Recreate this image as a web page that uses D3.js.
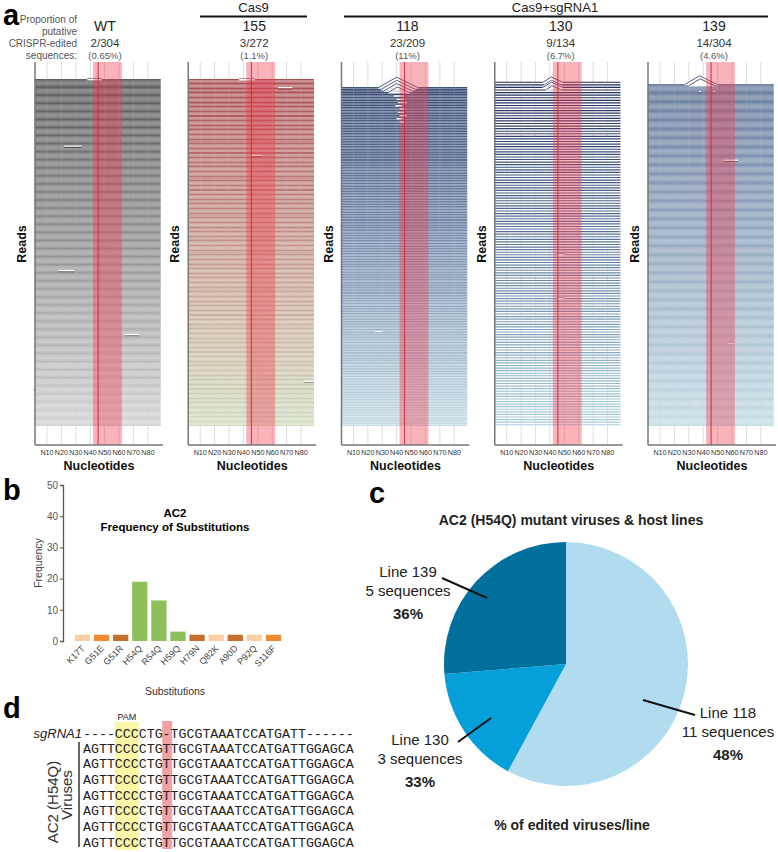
<!DOCTYPE html>
<html><head><meta charset="utf-8">
<script src="https://cdn.jsdelivr.net/npm/d3@7"></script>
<style>
body{margin:0;background:#fff;}
svg{display:block;font-family:"Liberation Sans",Arial,Helvetica,sans-serif;}
</style></head><body>
<svg id="c" width="778" height="852"></svg>
<script>
// ================= DATA =================
// Panel a
const samples = ["WT","155","118","130","139"];
const editedReads = [2,3,23,9,14];
const totalReads = [304,272,209,134,304];
const editedPercent = ["0.65%","1.1%","11%","6.7%","4.6%"];
const groups = [{label:"Cas9", first:1, last:1},{label:"Cas9+sgRNA1", first:2, last:4}];
const nucleotideTicks = [10,20,30,40,50,60,70,80];
const targetWindow = [42,62];
const cutSite = 45.5;
const readSpan = [1.5, 89];
// [sample, read row, from nt, to nt, kind]
const readEdits = [
  [0,0,38,48,"gap"],[0,59,22,34,"mark"],[0,168,18,29,"mark"],[0,224,64,74,"mark"],[0,271,0.5,2,"mark"],
  [1,0,37,48,"gap"],[1,7,64,74,"mark"],[1,60,45,53,"mark"],[1,237,82,89,"mark"],
  [2,0,27,55,"del"],[2,1,29,53,"del"],[2,2,31,51,"del"],[2,3,34,49,"del"],
  [2,5,38,45,"gap"],[2,7,40,46,"gap"],[2,9,41,47,"gap"],[2,11,39,44,"gap"],[2,13,42,46,"gap"],
  [2,15,41,45,"gap"],[2,17,42,47,"gap"],[2,19,40,44,"gap"],[2,21,42,45,"gap"],
  [2,150,25,30,"gap"],
  [3,0,35,49,"del"],[3,1,36,48,"del"],[3,2,35,49,"del"],[3,3,37,48,"del"],[3,67,45,50,"gap"],[3,84,45,50,"gap"],
  [4,0,27,50,"del"],[4,1,30,48,"del"],[4,7,37,38.5,"mark"],[4,7,47,48.5,"mark"],[4,68,54,64,"mark"],[4,230,57,62,"gap"]
];
// Panel b
const substitutions = ["K17T","G51E","G51R","H54Q","R54Q","H59Q","H79N","Q82K","A90D","P92Q","S116F"];
const substitutionFrequency = [2,2,2,19,13,3,2,2,2,2,2];
const substitutionClass = ["light","orange","brown","green","green","green","brown","light","brown","light","orange"];
const frequencyTicks = [0,10,20,30,40,50];
// Panel c
const hostLines = ["Line 118","Line 130","Line 139"];
const sequencesPerLine = [11,3,5];
const percentEdited = ["48%","33%","36%"];
// Panel d
const sgRNA = "----CCCCTG-TGCGTAAATCCATGATT------";
const viruses = [
  "AGTTCCCCTGTTGCGTAAATCCATGATTGGAGCA",
  "AGTTCCCCTGTTGCGTAAATCCATGATTGGAGCA",
  "AGTTCCCCTGTTGCGTAAATCCATGATTGGAGCA",
  "AGTTCCCCTGTTGCGTAAATCCATGATTGGAGCA",
  "AGTTCCCCTGTTGCGTAAATCCATGATTGGAGCA",
  "AGTTCCCCTGTTGCGTAAATCCATGATTGGAGCA",
  "AGTTCCCCTGTTGCGTAAATCCATGATTGGAGCA"
];
const pamPositions = [4,6];     // 0-based char index range
const insertPosition = 10;

// ================= STYLE =================
const readPalettes = [
  ["#4b4b4b","#8c8c8c","#cfcfcf"],
  ["#aa4d52","#c8988a","#cfdcbf"],
  ["#3e5179","#7f96b5","#c6dde5"],
  ["#1d2b5a","#5f7ca3","#a8cfdc"],
  ["#5a6f94","#8ea4bf","#bfdbe2"]
];
const readWidths = [0.95,1.05,1.4,1.15,0.95];
const readTops = [79,79,87,81,84];
const barColors = {light:"#fbcfa6", orange:"#ee8a30", brown:"#c46f2c", green:"#8dc05a"};
const pieColors = ["#b1dcf0","#05a0da","#02709c"];

const svg = d3.select("#c");
const FONT = '"Liberation Sans",Arial,Helvetica,sans-serif';

// ================= PANEL A =================
svg.append("text").attr("x",3).attr("y",25).attr("font-size",29).attr("font-weight","bold").text("a");
["Proportion of","putative","CRISPR-edited","sequences:"].forEach((t,i)=>{
  svg.append("text").attr("x",77).attr("y",22.5+i*12).attr("text-anchor","end")
    .attr("font-size",10).attr("fill","#555").text(t);
});
const plotW = 153.25, axTop = 62, axBottom = 445, readsBottom = 426;
samples.forEach((s,i)=>{
  const x0 = 35 + plotW*i;
  const g = svg.append("g");
  const x = d3.scaleLinear().domain([0,90]).range([x0-2.4, x0-2.4+129.6]);
  const y = d3.scaleBand().domain(d3.range(totalReads[i])).range([readTops[i], readsBottom]);
  const col = d3.interpolateRgbBasis(readPalettes[i]);
  // header
  const cx = x0 + (i===0?70:66);
  g.append("text").attr("x",cx).attr("y",31).attr("text-anchor","middle").attr("font-size",14).attr("fill","#222").text(s);
  g.append("text").attr("x",cx).attr("y",47).attr("text-anchor","middle").attr("font-size",11.5).attr("fill","#333")
    .text(editedReads[i]+"/"+totalReads[i]);
  g.append("text").attr("x",cx).attr("y",58.5).attr("text-anchor","middle").attr("font-size",9.5).attr("fill","#555")
    .text("("+editedPercent[i]+")");
  // gridlines
  g.selectAll(".grid").data(nucleotideTicks).join("line")
    .attr("x1",d=>x(d)).attr("x2",d=>x(d)).attr("y1",axTop).attr("y2",axBottom)
    .attr("stroke","#d4d4d4").attr("stroke-width",0.8);
  // reads
  const rows = d3.range(totalReads[i]);
  g.selectAll(".read").data(rows).join("line")
    .attr("x1",x(readSpan[0])).attr("x2",x(readSpan[1]))
    .attr("y1",d=>y(d)+y.bandwidth()/2).attr("y2",d=>y(d)+y.bandwidth()/2)
    .attr("stroke",d=>col(d/(totalReads[i]-1))).attr("stroke-width",readWidths[i]);
  // grid visible through reads
  g.selectAll(".grid2").data(nucleotideTicks).join("line")
    .attr("x1",d=>x(d)).attr("x2",d=>x(d)).attr("y1",readTops[i]).attr("y2",readsBottom)
    .attr("stroke","#ffffff").attr("stroke-opacity",0.18).attr("stroke-width",0.8);
  // edits
  readEdits.filter(e=>e[0]===i).forEach(e=>{
    const ry = y(e[1]) + y.bandwidth()/2;
    const c = d3.color(col(e[1]/(totalReads[i]-1))).darker(0.8);
    if(e[4]==="gap"){
      g.append("line").attr("x1",x(e[2])).attr("x2",x(e[3])).attr("y1",ry).attr("y2",ry)
        .attr("stroke","#fff").attr("stroke-width",1.6);
      g.append("line").attr("x1",x(e[2])).attr("x2",x(e[3])).attr("y1",ry-1.2).attr("y2",ry-1.2)
        .attr("stroke",c).attr("stroke-width",0.6);
    } else if(e[4]==="mark"){
      g.append("line").attr("x1",x(e[2])).attr("x2",x(e[3])).attr("y1",ry-0.8).attr("y2",ry-0.8)
        .attr("stroke","#fff").attr("stroke-width",1.2);
      g.append("line").attr("x1",x(e[2])).attr("x2",x(e[3])).attr("y1",ry+0.5).attr("y2",ry+0.5)
        .attr("stroke",c).attr("stroke-width",1);
    } else {
      const mid = (e[2]+e[3])/2 - 1;
      const h = (e[3]-e[2])*0.38;
      g.append("line").attr("x1",x(e[2])).attr("x2",x(e[3])).attr("y1",ry).attr("y2",ry)
        .attr("stroke","#fff").attr("stroke-width",1.4);
      g.append("path").attr("d",`M${x(e[2])},${ry}L${x(mid)},${ry-h}L${x(e[3])},${ry}`)
        .attr("fill","none").attr("stroke","#fff").attr("stroke-width",2.2);
      g.append("path").attr("d",`M${x(e[2])},${ry}L${x(mid)},${ry-h}L${x(e[3])},${ry}`)
        .attr("fill","none").attr("stroke","#22325a").attr("stroke-width",0.8);
    }
  });
  // target window
  g.append("rect").attr("x",x(targetWindow[0])).attr("y",axTop)
    .attr("width",x(targetWindow[1])-x(targetWindow[0])).attr("height",axBottom-axTop)
    .attr("fill","rgb(243,55,75)").attr("fill-opacity",0.38);
  g.append("line").attr("x1",x(cutSite)).attr("x2",x(cutSite)).attr("y1",axTop).attr("y2",axBottom)
    .attr("stroke","#c8303c").attr("stroke-width",1);
  // axes
  g.append("line").attr("x1",x0).attr("x2",x0).attr("y1",axTop).attr("y2",axBottom).attr("stroke","#777").attr("stroke-width",1.5);
  g.append("line").attr("x1",x0).attr("x2",x0+128).attr("y1",axBottom).attr("y2",axBottom).attr("stroke","#777").attr("stroke-width",1.5);
  g.selectAll(".tl").data(nucleotideTicks).join("text")
    .attr("x",d=>x(d)).attr("y",455).attr("text-anchor","middle").attr("font-size",7.2).attr("fill","#333")
    .text(d=>"N"+d);
  g.append("text").attr("x",x0+64).attr("y",470).attr("text-anchor","middle").attr("font-size",12.5)
    .attr("font-weight","bold").attr("fill","#111").text("Nucleotides");
  g.append("text").attr("transform",`translate(${x0-9},244) rotate(-90)`).attr("text-anchor","middle")
    .attr("font-size",12.5).attr("font-weight","bold").attr("fill","#111").text("Reads");
});
groups.forEach(gr=>{
  const lx1 = gr.first===1 ? 200 : 344, lx2 = gr.first===1 ? 307 : 768;
  svg.append("line").attr("x1",lx1).attr("x2",lx2).attr("y1",16.5).attr("y2",16.5).attr("stroke","#111").attr("stroke-width",2);
  svg.append("text").attr("x",(lx1+lx2)/2 - (gr.first===1?0:1)).attr("y",11.5).attr("text-anchor","middle")
    .attr("font-size",13).attr("fill","#222").text(gr.label);
});

// ================= PANEL B =================
svg.append("text").attr("x",3).attr("y",500).attr("font-size",29).attr("font-weight","bold").text("b");
const yb = d3.scaleLinear().domain([0,50]).range([641,485]);
const xb = d3.scaleBand().domain(substitutions).range([72,284]).paddingInner(0.2).paddingOuter(0.15);
const gb = svg.append("g");
gb.append("g").attr("transform","translate(63,0)")
  .call(d3.axisLeft(yb).tickValues(frequencyTicks).tickSize(3).tickPadding(2))
  .call(a=>{a.select(".domain").attr("stroke","#555").attr("stroke-width",1.3);
            a.selectAll(".tick line").attr("stroke","#555");
            a.selectAll("text").attr("font-size",10).attr("fill","#555").attr("font-family",FONT);});
gb.selectAll(".bar").data(substitutions).join("rect")
  .attr("x",d=>xb(d)).attr("width",xb.bandwidth())
  .attr("y",(d,i)=>yb(substitutionFrequency[i])).attr("height",(d,i)=>yb(0)-yb(substitutionFrequency[i]))
  .attr("fill",(d,i)=>barColors[substitutionClass[i]]);
gb.selectAll(".xl").data(substitutions).join("text")
  .attr("transform",d=>`translate(${xb(d)+xb.bandwidth()/2+3},${649}) rotate(-45)`)
  .attr("text-anchor","end").attr("font-size",9).attr("fill","#444").text(d=>d);
gb.append("text").attr("x",175).attr("y",695).attr("text-anchor","middle").attr("font-size",10.5).attr("fill","#333").text("Substitutions");
gb.append("text").attr("transform","translate(42,563) rotate(-90)").attr("text-anchor","middle")
  .attr("font-size",10.5).attr("fill","#444").text("Frequency");
gb.append("text").attr("x",175).attr("y",517).attr("text-anchor","middle").attr("font-size",11.5).attr("font-weight","bold").text("AC2");
gb.append("text").attr("x",175).attr("y",531).attr("text-anchor","middle").attr("font-size",11.5).attr("font-weight","bold").text("Frequency of Substitutions");

// ================= PANEL C =================
svg.append("text").attr("x",369).attr("y",503).attr("font-size",29).attr("font-weight","bold").text("c");
svg.append("text").attr("x",571).attr("y",525).attr("text-anchor","middle").attr("font-size",14).attr("font-weight","bold")
  .attr("fill","#222").text("AC2 (H54Q) mutant viruses & host lines");
const pcx = 566, pcy = 664, pr = 122;
const pie = d3.pie().sort(null).value(d=>d)(sequencesPerLine);
const arc = d3.arc().innerRadius(0).outerRadius(pr);
const gc = svg.append("g").attr("transform",`translate(${pcx},${pcy})`);
gc.selectAll("path").data(pie).join("path").attr("d",arc).attr("fill",(d,i)=>pieColors[i]);
const pieLabels = [
  {tx:728, ty:713, l:[[643,700],[695,715]]},
  {tx:420, ty:740, l:[[458,742],[491,718]]},
  {tx:408, ty:572, l:[[442,578],[487,598]]}
];
pieLabels.forEach((p,i)=>{
  svg.append("line").attr("x1",p.l[0][0]).attr("y1",p.l[0][1]).attr("x2",p.l[1][0]).attr("y2",p.l[1][1])
    .attr("stroke","#111").attr("stroke-width",2);
  svg.append("text").attr("x",p.tx).attr("y",p.ty+5).attr("text-anchor","middle").attr("font-size",15).attr("fill","#222").text(hostLines[i]);
  svg.append("text").attr("x",p.tx).attr("y",p.ty+24).attr("text-anchor","middle").attr("font-size",15).attr("fill","#222")
    .text(sequencesPerLine[i]+" sequences");
  svg.append("text").attr("x",p.tx).attr("y",p.ty+47).attr("text-anchor","middle").attr("font-size",15).attr("font-weight","bold").attr("fill","#222")
    .text(percentEdited[i]);
});
svg.append("text").attr("x",572).attr("y",830).attr("text-anchor","middle").attr("font-size",14).attr("font-weight","bold")
  .attr("fill","#222").text("% of edited viruses/line");

// ================= PANEL D =================
svg.append("text").attr("x",3).attr("y",718).attr("font-size",29).attr("font-weight","bold").text("d");
const cw = 7.97, sx = 83;
const rowY = d3.scaleLinear().domain([0,1]).range([748,763.7]);
svg.append("rect").attr("x",sx+pamPositions[0]*cw).attr("y",722).attr("width",(pamPositions[1]-pamPositions[0]+1)*cw).attr("height",128).attr("fill","#fbf7a6");
svg.append("rect").attr("x",sx+insertPosition*cw-0.5).attr("y",721).attr("width",cw+2).attr("height",128).attr("fill","#f4a1a3");
svg.append("text").attr("x",sx+(pamPositions[0]+1.5)*cw).attr("y",720).attr("text-anchor","middle").attr("font-size",9).attr("fill","#222").text("PAM");
svg.append("text").attr("x",sx-1).attr("y",737.5).attr("text-anchor","end").attr("font-size",13).attr("font-style","italic").attr("fill","#222").text("sgRNA1");
const mono = '"Liberation Mono","Courier New",monospace';
svg.append("text").attr("x",sx).attr("y",737.5).attr("font-family",mono).attr("font-size",13.28).attr("fill","#222").text(sgRNA);
svg.selectAll(".vr").data(viruses).join("text")
  .attr("x",sx).attr("y",(d,i)=>rowY(i)+4.5).attr("font-family",mono).attr("font-size",13.28).attr("fill","#222").text(d=>d);
svg.append("line").attr("x1",79).attr("x2",79).attr("y1",742).attr("y2",847).attr("stroke","#333").attr("stroke-width",1.5);
svg.append("text").attr("transform","translate(58,802) rotate(-90)").attr("text-anchor","middle").attr("font-size",15).attr("fill","#333").text("AC2 (H54Q)");
svg.append("text").attr("transform","translate(72,795) rotate(-90)").attr("text-anchor","middle").attr("font-size",15).attr("fill","#333").text("Viruses");
</script>
</body></html>
